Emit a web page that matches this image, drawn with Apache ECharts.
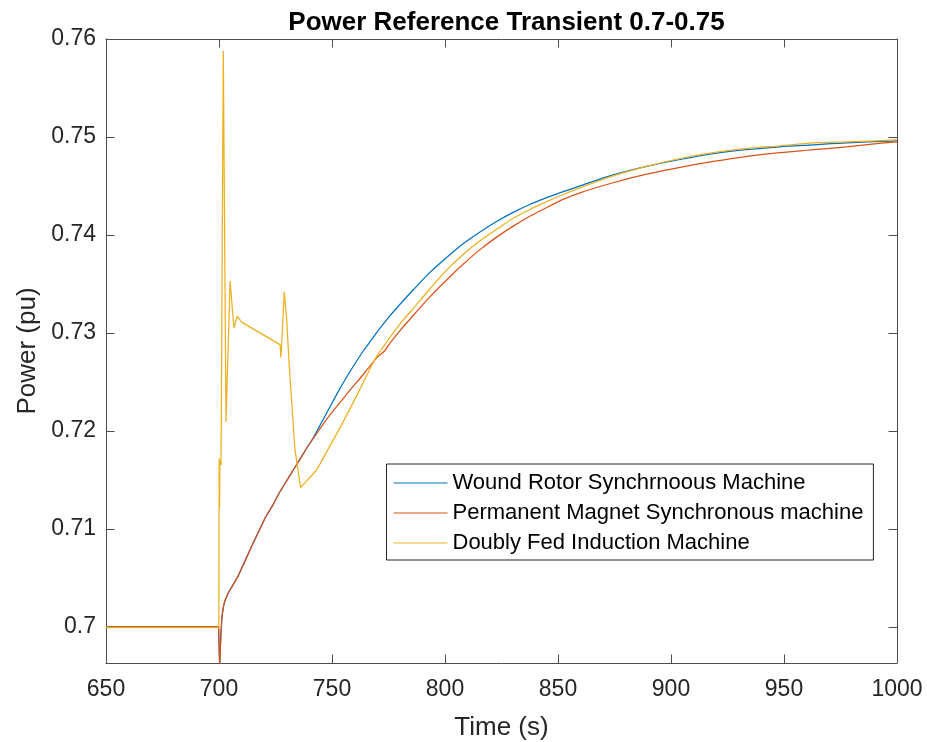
<!DOCTYPE html>
<html>
<head>
<meta charset="utf-8">
<title>Power Reference Transient 0.7-0.75</title>
<script src="https://cdn.jsdelivr.net/npm/echarts@6/dist/echarts.min.js"></script>
<style>
  html, body { margin: 0; padding: 0; background: #ffffff; }
  #chart { width: 927px; height: 742px; }
</style>
</head>
<body>
<div id="chart"></div>
<script>
// Tick positions
const xTicks = [650, 700, 750, 800, 850, 900, 950, 1000];
const yTicks = [0.70, 0.71, 0.72, 0.73, 0.74, 0.75, 0.76];

// Legend names
const seriesNames = [
  'Wound Rotor Synchrnoous Machine',
  'Permanent Magnet Synchronous machine',
  'Doubly Fed Induction Machine'
];

// [time (s), power (pu)] samples for each machine
const woundRotor = [
  [650, 0.7000], [699.8, 0.7000], [700.3, 0.6960], [700.8, 0.6990], [701.3, 0.7010],
  [702.0, 0.7021], [702.7, 0.7027], [704.2, 0.7035], [706.0, 0.7042], [708.5, 0.7052],
  [711.5, 0.7067], [714.4, 0.7082], [717.5, 0.7097], [720.4, 0.7111], [724, 0.7125],
  [727, 0.7138], [731, 0.7153], [735, 0.7168], [739, 0.7183], [742, 0.7194],
  [745.5, 0.7209], [749, 0.7224], [752.5, 0.7239], [756.5, 0.7255], [760, 0.7268],
  [764, 0.7282], [767.5, 0.7293], [771, 0.7304], [775.5, 0.7317], [780, 0.7329],
  [786, 0.7344], [793, 0.7361], [800.7, 0.7377], [808, 0.7391], [815.5, 0.7403],
  [823, 0.7414], [830.2, 0.7423], [837.5, 0.7431], [845, 0.7438], [852, 0.7444],
  [859.7, 0.7450], [874, 0.7461], [889.2, 0.7470], [904, 0.7477], [918.7, 0.7483],
  [933, 0.7487], [948.2, 0.7490], [963, 0.7492], [977.7, 0.7494], [1000, 0.7496]
];

const permanentMagnet = [
  [650, 0.7000], [699.8, 0.7000], [700.3, 0.6960], [700.8, 0.6990], [701.3, 0.7010],
  [702.0, 0.7021], [702.7, 0.7027], [704.2, 0.7035], [706.0, 0.7042], [708.5, 0.7052],
  [711.5, 0.7067], [714.4, 0.7082], [717.5, 0.7097], [720.4, 0.7111], [724, 0.7125],
  [727, 0.7138], [731, 0.7153], [735, 0.7168], [739, 0.7183], [742, 0.7193],
  [748, 0.7213], [756, 0.7236], [764, 0.7258], [770, 0.7275], [773.5, 0.7282],
  [774.5, 0.7286], [780, 0.7302], [786, 0.7318], [793, 0.7336], [800.7, 0.7354],
  [808, 0.7370], [815.5, 0.7385], [823, 0.7398], [830.2, 0.7409], [837.5, 0.7419],
  [845, 0.7428], [852, 0.7436], [859.7, 0.7443], [874, 0.7453], [889.2, 0.7462],
  [904, 0.7469], [918.7, 0.7475], [933, 0.7480], [948.2, 0.7484], [963, 0.7487],
  [977.7, 0.7490], [990, 0.7493], [1000, 0.7495]
];

const doublyFed = [
  [650, 0.6999], [699.9, 0.6999], [700.0, 0.7085], [700.1, 0.7172], [700.25, 0.7122],
  [700.4, 0.7170], [700.9, 0.7165], [701.9, 0.7588], [703.1, 0.7209], [704.9, 0.7353],
  [706.6, 0.7305], [708.1, 0.7317], [710, 0.7311], [727, 0.7288], [727.4, 0.7275],
  [728.9, 0.7342], [730, 0.7312], [731, 0.7269], [733.6, 0.7181], [736.1, 0.7142],
  [743.2, 0.7160], [756.5, 0.7216], [769, 0.7273], [771.2, 0.7281], [780, 0.7309],
  [786, 0.7325], [793, 0.7344], [800.7, 0.7364], [808, 0.7380], [815.5, 0.7394],
  [823, 0.7406], [830.2, 0.7417], [837.5, 0.7426], [845, 0.7434], [852, 0.7441],
  [859.7, 0.7448], [874, 0.7460], [889.2, 0.7470], [904, 0.7478], [918.7, 0.7484],
  [933, 0.7488], [948.2, 0.7491], [963, 0.7494], [977.7, 0.7495], [1000, 0.7497]
];

// The fast transient is drawn as a polyline; the slow recovery after it as a smooth curve
const transientEnd = [727, 727, 743.2];

const colors = ['#0072BD', '#D95319', '#EDB120'];

const FONT = '"Liberation Sans", Arial, Helvetica, sans-serif';
const AXIS_COLOR = '#4d4d4d';
const TEXT_COLOR = '#262626';
const X_MIN = 650, X_MAX = 1000;
const Y_MIN = 0.6963, Y_MAX = 0.76;

const tickStyle = { show: true, inside: true, length: 8.5, lineStyle: { color: AXIS_COLOR, width: 1 } };
const lineStyle = { show: true, lineStyle: { color: AXIS_COLOR, width: 1 } };

function splitAt(data, t) {
  const head = data.filter(p => p[0] <= t);
  const tail = data.filter(p => p[0] >= t);
  return [head, tail];
}

function lineSeries(name, data, color, smooth) {
  return {
    name: name,
    type: 'line',
    xAxisIndex: 0,
    yAxisIndex: 0,
    data: data,
    symbol: 'none',
    showSymbol: false,
    smooth: smooth,
    clip: true,
    lineStyle: { color: color, width: 1.25 },
    itemStyle: { color: color },
    emphasis: { disabled: true }
  };
}

const series = [];
[woundRotor, permanentMagnet, doublyFed].forEach((data, i) => {
  const parts = splitAt(data, transientEnd[i]);
  series.push(lineSeries(seriesNames[i], parts[0], colors[i], false));
  series.push(lineSeries(seriesNames[i], parts[1], colors[i], 0.3));
});

const chart = echarts.init(document.getElementById('chart'), null, { renderer: 'canvas' });

chart.setOption({
  animation: false,
  backgroundColor: '#ffffff',
  title: {
    text: 'Power Reference Transient 0.7-0.75',
    left: 501.5,
    top: 5,
    textAlign: 'center',
    textStyle: { fontFamily: FONT, fontSize: 26, fontWeight: 'bold', color: '#000000' }
  },
  grid: { left: 106, right: 30, top: 39, bottom: 79, containLabel: false, outerBoundsMode: 'none' },
  legend: {
    show: true,
    orient: 'vertical',
    left: 386.5,
    top: 464,
    data: seriesNames,
    icon: 'rect',
    itemWidth: 54,
    itemHeight: 1.2,
    itemGap: 8,
    padding: [8, 10, 6, 7],
    backgroundColor: '#ffffff',
    borderColor: '#262626',
    borderWidth: 1,
    borderRadius: 0,
    selectedMode: false,
    textStyle: { fontFamily: FONT, fontSize: 22, lineHeight: 22, color: '#000000' }
  },
  xAxis: [
    {
      type: 'value', position: 'bottom', min: X_MIN, max: X_MAX, interval: 50,
      name: 'Time (s)', nameLocation: 'middle', nameGap: 52,
      nameTextStyle: { fontFamily: FONT, fontSize: 26, color: TEXT_COLOR },
      axisLine: lineStyle, axisTick: tickStyle, splitLine: { show: false },
      axisLabel: { fontFamily: FONT, fontSize: 23, color: TEXT_COLOR, margin: 15,
        customValues: xTicks, formatter: v => String(v) }
    },
    {
      type: 'value', position: 'top', min: X_MIN, max: X_MAX, interval: 50,
      axisLine: lineStyle, axisTick: tickStyle, splitLine: { show: false },
      axisLabel: { show: false }
    }
  ],
  yAxis: [
    {
      type: 'value', position: 'left', min: Y_MIN, max: Y_MAX,
      name: 'Power (pu)', nameLocation: 'middle', nameGap: 61,
      nameTextStyle: { fontFamily: FONT, fontSize: 26, color: TEXT_COLOR },
      axisLine: lineStyle,
      axisTick: Object.assign({}, tickStyle, { customValues: yTicks }),
      splitLine: { show: false },
      axisLabel: { fontFamily: FONT, fontSize: 23, color: TEXT_COLOR, margin: 10,
        customValues: yTicks,
        formatter: v => String(Math.round(v * 100) / 100) }
    },
    {
      type: 'value', position: 'right', min: Y_MIN, max: Y_MAX,
      axisLine: lineStyle,
      axisTick: Object.assign({}, tickStyle, { customValues: yTicks }),
      splitLine: { show: false },
      axisLabel: { show: false }
    }
  ],
  series: series
});
</script>
</body>
</html>
